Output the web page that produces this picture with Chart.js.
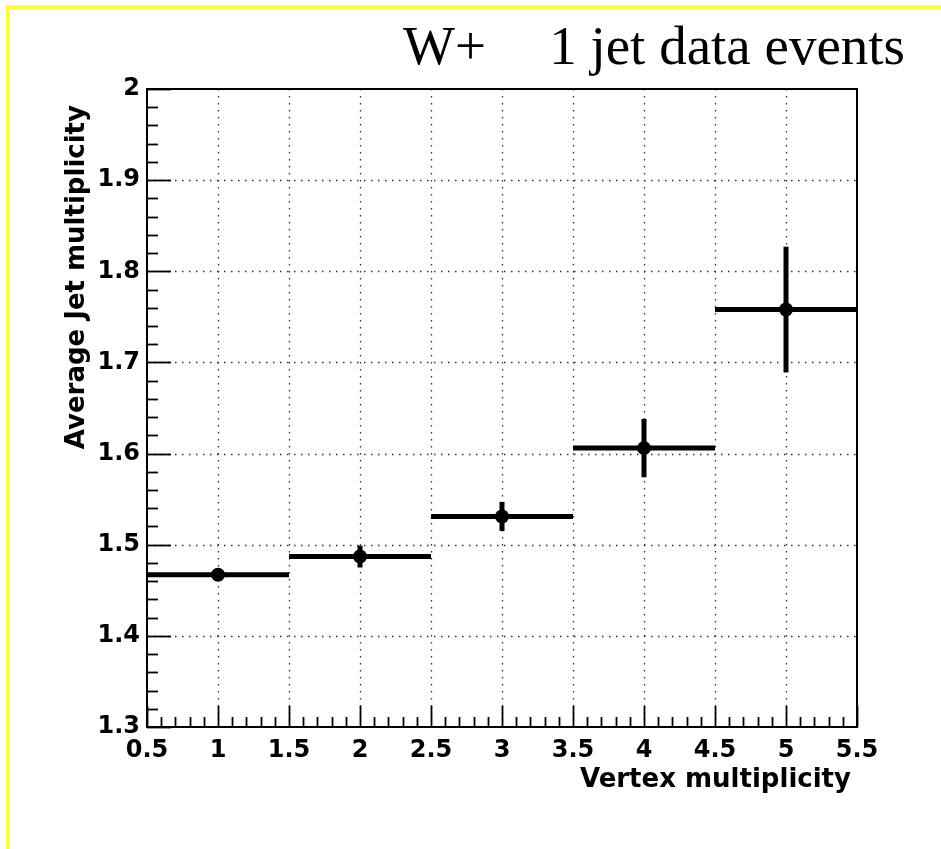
<!DOCTYPE html>
<html>
<head>
<meta charset="utf-8">
<script src="https://cdn.jsdelivr.net/npm/chart.js@4/dist/chart.umd.min.js"></script>
<style>
html,body{margin:0;padding:0;background:#fff;}
#wrap{width:941px;height:849px;position:relative;}
</style>
</head>
<body>
<div id="wrap"><canvas id="c" width="941" height="849"></canvas></div>
<script>
// ---- data ----
const vertexMultiplicity = [1, 2, 3, 4, 5];
const avgJetMultiplicity = [1.467, 1.487, 1.531, 1.606, 1.758];
const avgJetError = [0.006, 0.012, 0.016, 0.032, 0.069];
const binHalfWidth = [0.5, 0.5, 0.5, 0.5, 0.5];
const xTickValues = [0.5, 1, 1.5, 2, 2.5, 3, 3.5, 4, 4.5, 5, 5.5];
const xTickLabels = ['0.5', '1', '1.5', '2', '2.5', '3', '3.5', '4', '4.5', '5', '5.5'];
const yTickValues = [1.3, 1.4, 1.5, 1.6, 1.7, 1.8, 1.9, 2.0];
const yTickLabels = ['1.3', '1.4', '1.5', '1.6', '1.7', '1.8', '1.9', '2'];
const titleLeft = 'W+';
const titleRight = '1 jet data events';
const xTitle = 'Vertex multiplicity';
const yTitle = 'Average Jet multiplicity';

const tickFont = { family: 'DejaVu Sans', weight: 'bold', size: 24 };
const axisTitleFont = 'bold 26px "DejaVu Sans"';

const points = vertexMultiplicity.map((x, i) => ({ x: x, y: avgJetMultiplicity[i] }));

const decorPlugin = {
  id: 'decor',
  beforeDraw(chart) {
    const ctx = chart.ctx;
    ctx.save();
    ctx.fillStyle = '#fff';
    ctx.fillRect(0, 0, chart.width, chart.height);
    // yellow frame
    ctx.fillStyle = '#ffff33';
    ctx.fillRect(6, 5, chart.width - 6, 4);
    ctx.fillRect(6, 5, 4, chart.height - 5);
    ctx.restore();
  },
  beforeDatasetsDraw(chart) {
    const ctx = chart.ctx;
    const xs = chart.scales.x, ys = chart.scales.y;
    const a = chart.chartArea;
    ctx.save();
    // dotted grid
    ctx.strokeStyle = '#333';
    ctx.lineWidth = 1.3;
    ctx.setLineDash([1.5, 5.5]);
    xTickValues.forEach(v => {
      if (v <= xs.min || v >= xs.max) return;
      const px = Math.round(xs.getPixelForValue(v)) + 0.5;
      ctx.beginPath(); ctx.moveTo(px, a.top); ctx.lineTo(px, a.bottom); ctx.stroke();
    });
    yTickValues.forEach(v => {
      if (v <= ys.min + 1e-9 || v >= ys.max - 1e-9) return;
      const py = Math.round(ys.getPixelForValue(v)) + 0.5;
      ctx.beginPath(); ctx.moveTo(a.left, py); ctx.lineTo(a.right, py); ctx.stroke();
    });
    ctx.setLineDash([]);
    // frame
    ctx.strokeStyle = '#000';
    ctx.lineWidth = 2;
    ctx.strokeRect(a.left, a.top, a.right - a.left, a.bottom - a.top);
    // ticks x: minor every 0.1, major every 0.5
    ctx.lineWidth = 1.8;
    for (let k = 5; k <= 55; k++) {
      const v = k / 10;
      const px = Math.round(xs.getPixelForValue(v)) + 0.5;
      const len = (k % 5 === 0) ? 21 : 10;
      ctx.beginPath(); ctx.moveTo(px, a.bottom); ctx.lineTo(px, a.bottom - len); ctx.stroke();
    }
    // ticks y: minor every 0.02, major every 0.1
    for (let k = 65; k <= 100; k++) {
      const v = k / 50;
      const py = Math.round(ys.getPixelForValue(v)) + 0.5;
      const len = (k % 5 === 0) ? 24 : 11;
      ctx.beginPath(); ctx.moveTo(a.left, py); ctx.lineTo(a.left + len, py); ctx.stroke();
    }
    // error bars
    ctx.strokeStyle = '#000';
    ctx.lineWidth = 5;
    ctx.lineCap = 'butt';
    vertexMultiplicity.forEach((x, i) => {
      const y = avgJetMultiplicity[i];
      const px = xs.getPixelForValue(x);
      const py = ys.getPixelForValue(y);
      const x0 = xs.getPixelForValue(x - binHalfWidth[i]);
      const x1 = xs.getPixelForValue(x + binHalfWidth[i]);
      const y0 = ys.getPixelForValue(y - avgJetError[i]);
      const y1 = ys.getPixelForValue(y + avgJetError[i]);
      ctx.beginPath(); ctx.moveTo(x0, py); ctx.lineTo(x1, py); ctx.stroke();
      ctx.beginPath(); ctx.moveTo(px, y0); ctx.lineTo(px, y1); ctx.stroke();
    });
    ctx.restore();
  },
  afterDraw(chart) {
    const ctx = chart.ctx;
    ctx.save();
    ctx.fillStyle = '#000';
    // main title
    ctx.font = '55px "Liberation Serif"';
    ctx.textBaseline = 'alphabetic';
    ctx.textAlign = 'left';
    ctx.fillText(titleLeft, 403, 64);
    ctx.textAlign = 'right';
    ctx.fillText(titleRight, 905, 64);
    // x title
    ctx.font = axisTitleFont;
    ctx.textAlign = 'right';
    ctx.fillText(xTitle, 851, 787);
    // y title
    ctx.translate(84, 105);
    ctx.rotate(-Math.PI / 2);
    ctx.textAlign = 'right';
    ctx.fillText(yTitle, 0, 0);
    ctx.restore();
  }
};

new Chart(document.getElementById('c'), {
  type: 'scatter',
  data: {
    datasets: [{
      data: points,
      backgroundColor: '#000',
      borderColor: '#000',
      pointRadius: 7,
      pointHoverRadius: 7,
      borderWidth: 0
    }]
  },
  options: {
    responsive: false,
    animation: false,
    events: [],
    layout: { padding: { left: 0, right: 84, top: 89, bottom: 0 } },
    plugins: { legend: { display: false }, tooltip: { enabled: false } },
    scales: {
      x: {
        type: 'linear',
        min: 0.5, max: 5.5,
        grid: { display: false, drawTicks: false },
        border: { display: false },
        afterBuildTicks: s => { s.ticks = xTickValues.map(v => ({ value: v })); },
        afterFit: s => { s.height = 122; },
        ticks: {
          autoSkip: false, maxRotation: 0, padding: 9,
          color: '#000', font: tickFont,
          callback: (v, i) => xTickLabels[i]
        }
      },
      y: {
        type: 'linear',
        min: 1.3, max: 2.0,
        grid: { display: false, drawTicks: false },
        border: { display: false },
        afterBuildTicks: s => { s.ticks = yTickValues.map(v => ({ value: v })); },
        afterFit: s => { s.width = 147; },
        ticks: {
          autoSkip: false, padding: 7,
          color: '#000', font: tickFont,
          callback: (v, i) => yTickLabels[i]
        }
      }
    }
  },
  plugins: [decorPlugin]
});
</script>
</body>
</html>
